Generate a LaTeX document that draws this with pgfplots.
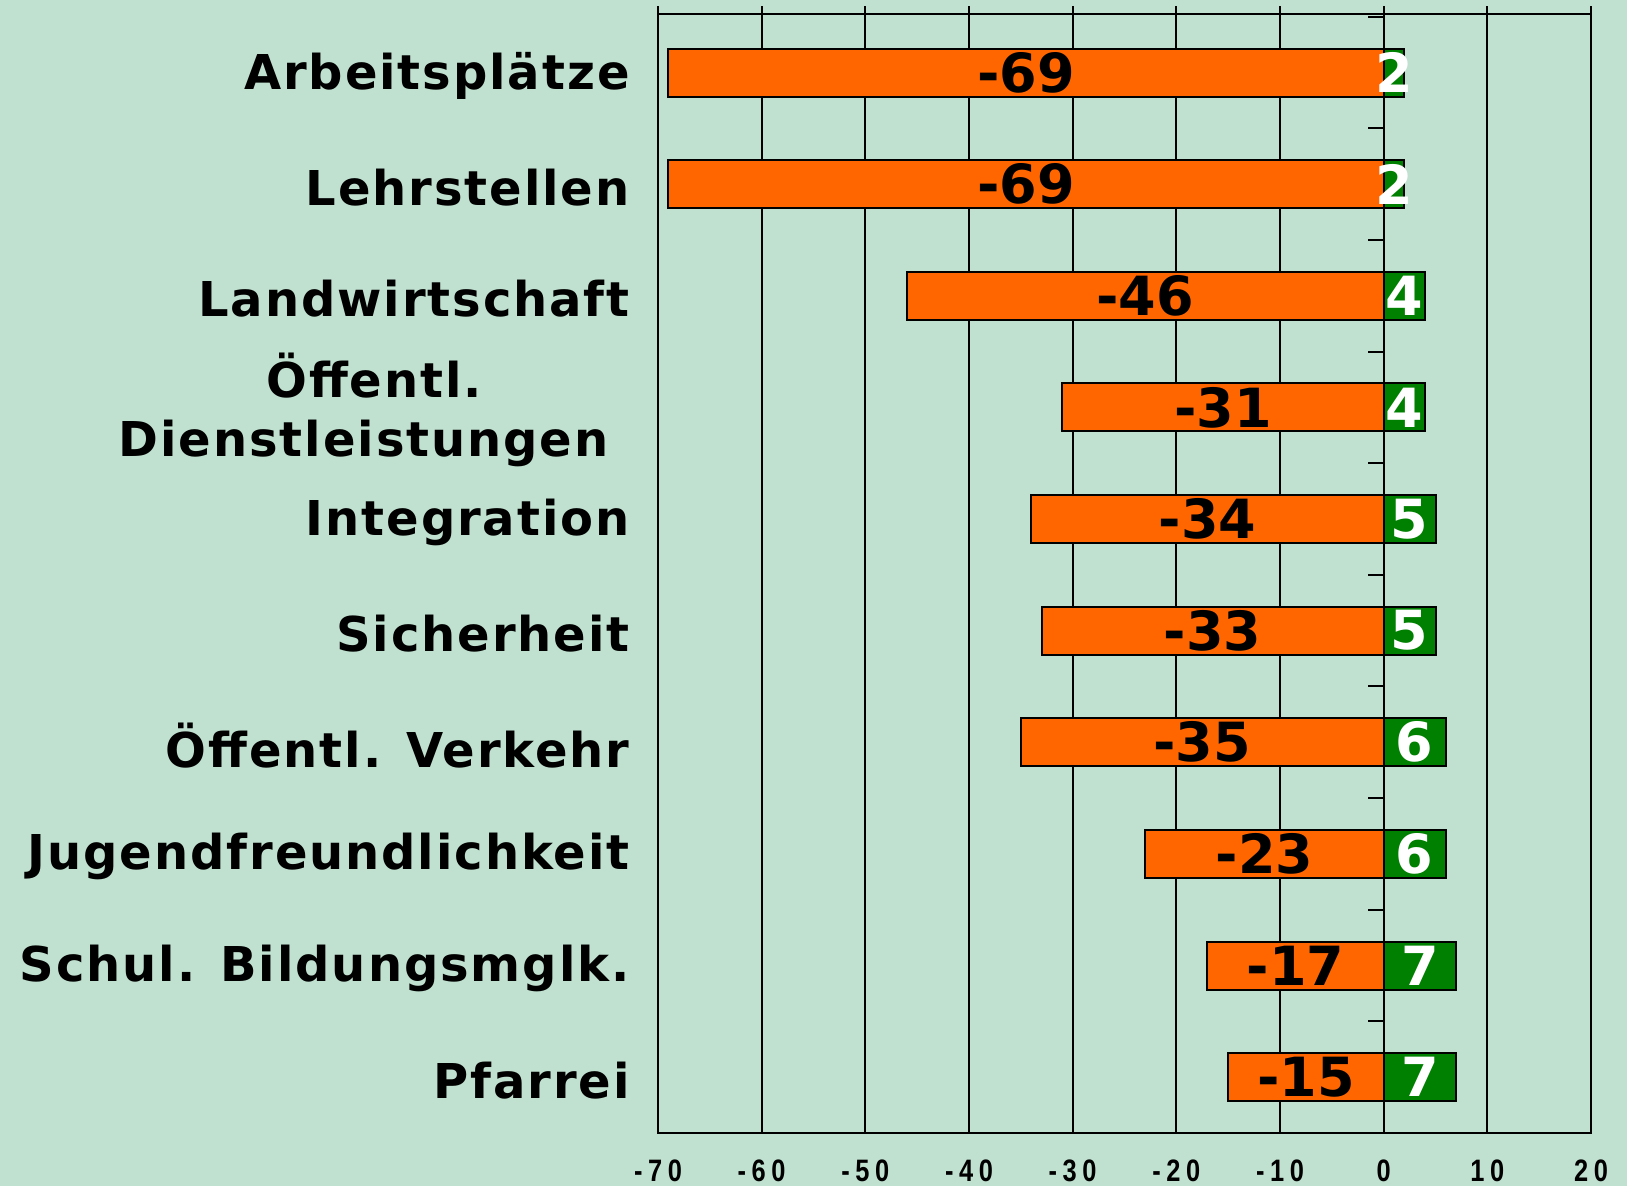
\documentclass[border=0pt]{standalone}
\usepackage{pgfplots}
\pgfplotsset{compat=1.18}
\usepackage{pgfplotstable}
\usepackage{fontspec}
\setmainfont{DejaVu Sans}
\newfontfamily\lblfont[LetterSpace=4.0]{DejaVu Sans}
\newfontfamily\valfont{DejaVu Sans}
\newfontfamily\tickfont[FakeStretch=0.82,LetterSpace=18.0]{Liberation Sans}
\definecolor{bg}{RGB}{192,225,208}
\definecolor{orng}{RGB}{255,102,0}
\definecolor{grn}{RGB}{0,128,0}

\pgfplotstableread{
y neg pos
0 -69 2
1 -69 2
2 -46 4
3 -31 4
4 -34 5
5 -33 5
6 -35 6
7 -23 6
8 -17 7
9 -15 7
}\data

\begin{document}
\begin{tikzpicture}
\fill[bg] (0,0) rectangle (813.5pt,593pt);
\useasboundingbox (0,0) rectangle (813.5pt,593pt);
\begin{axis}[
 at={(329pt,26.5pt)}, anchor=south west,
 scale only axis, width=466.5pt, height=559.25pt,
 xmin=-70, xmax=20, ymin=-0.52, ymax=9.5, y dir=reverse,
 xtick={-70,-60,...,20},
 xticklabels={-70,-60,-50,-40,-30,-20,-10,0,10,20},
 xtick pos=right, xticklabel pos=left, tick align=outside,
 major tick length=4pt,
 xmajorgrids, grid style={black, line width=1pt},
 x tick style={black, line width=1pt},
 ytick={0,...,9},
 yticklabels={Arbeitsplätze, Lehrstellen, Landwirtschaft, {Öffentl.\\Dienstleistungen\hspace*{10.5pt}}, Integration, Sicherheit, Öffentl. Verkehr, Jugendfreundlichkeit, Schul. Bildungsmglk., Pfarrei},
 y tick style={draw=none},
 axis line style={black, line width=1pt},
 xticklabel style={font=\tickfont\bfseries\fontsize{15.5}{17}\selectfont, anchor=center, yshift=-15pt},
 yticklabel style={font=\lblfont\bfseries\fontsize{24}{29.5}\selectfont, align=center, anchor=east, inner sep=0pt, xshift=-10pt, yshift=-1.5pt},
 clip=false,
]
\addplot[xbar, bar width=0.43, bar shift=0pt, fill=orng, draw=black, line width=1pt] table[x=neg,y=y]{\data};
\addplot[xbar, bar width=0.43, bar shift=0pt, fill=grn, draw=black, line width=1pt] table[x=pos,y=y]{\data};
\addplot[draw=none, mark=none, nodes near coords, point meta=explicit symbolic,
  nodes near coords style={anchor=center, font=\valfont\bfseries\fontsize{27}{27}\selectfont, text=black}]
  table[x expr=\thisrow{neg}/2, y=y, meta=neg]{\data};
\addplot[draw=none, mark=none, nodes near coords, point meta=explicit symbolic,
  nodes near coords style={anchor=center, font=\valfont\bfseries\fontsize{27}{27}\selectfont, text=white}]
  table[x expr=\thisrow{pos}/2, y=y, meta=pos]{\data};
\pgfplotsinvokeforeach{-0.5,0.5,1.5,2.5,3.5,4.5,5.5,6.5,7.5,8.5,9.5}{
  \draw[black,line width=1pt] (axis cs:0,#1) -- ++(-8pt,0pt);
}
\end{axis}
\end{tikzpicture}
\end{document}
